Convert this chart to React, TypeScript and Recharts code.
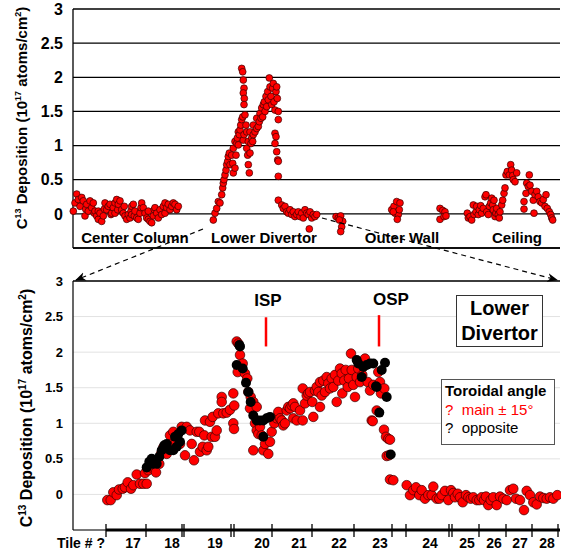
import React from 'react'
import { CartesianGrid, ReferenceDot, ReferenceLine, Scatter, ScatterChart, XAxis, YAxis } from 'recharts'

type Pt = [number, number]

// top panel: position along the wall (axis units), C13 deposition (1e17 atoms/cm2)
const centerColumn: Pt[] = [
  [0.3, 0.04], [2, 0.16], [3.7, 0.29], [5.3, 0.21], [7, 0.11], [8.7, 0.24], [10.3, 0.19], [12, -0.03],
  [12.7, 0.07], [13.7, 0.14], [15.3, 0.04], [17, 0.19], [18.7, 0.09], [20.3, 0.16], [21.3, 0.01], [22, 0.04],
  [23.7, -0.03], [25.3, -0.08], [25.3, 0.04], [27, 0.01], [28.7, -0.11], [30.3, -0.03], [31.3, 0.07], [32, 0.16],
  [33.7, 0.06], [35.3, 0.11], [37, 0.14], [38, -0.01], [38.7, 0.01], [40.3, 0.09], [42, 0.16], [42, 0.01],
  [43.7, 0.21], [44.7, 0.06], [45.3, 0.14], [47, 0.19], [48.7, 0.06], [50.3, 0.01], [51.3, 0.11], [52, -0.03],
  [53.7, -0.08], [55.3, -0.01], [57, -0.06], [58, 0.04], [58.7, 0.11], [58.7, -0.01], [60.3, 0.14], [61.3, -0.03],
  [62, 0.04], [63.7, -0.06], [65.3, -0.08], [67, 0.01], [68, 0.09], [68.7, 0.16], [70.3, 0.09], [72, 0.01],
  [73.7, -0.06], [75.3, -0.08], [75.3, 0.04], [77, -0.11], [78.7, -0.13], [80.3, -0.03], [81.3, 0.06], [82, 0.09],
  [83.7, 0.01], [85.3, -0.06], [87, 0.06], [88.7, -0.01], [90.3, 0.11], [92, 0.16], [92, 0.01], [93.7, 0.09],
  [95.3, 0.14], [97, 0.06], [98.7, 0.11], [100.3, 0.16], [102, 0.14], [103.7, 0.06], [105.3, 0.11],
]

const lowerDivertorWall: Pt[] = [
  [140.3, -0.09], [142, 0.01], [143.7, 0.08], [145.3, 0.18], [147, 0.16], [148.7, 0.28], [149.7, 0.38], [150.3, 0.45],
  [151, 0.5], [152, 0.57], [153, 0.64], [153.7, 0.72], [154.7, 0.77], [155.3, 0.84], [156.3, 0.89], [157, 0.72],
  [158.7, 0.86], [159.7, 0.74], [160.3, 0.6], [160.3, 0.96], [162, 0.67], [162, 1.06], [163, 0.86], [163.7, 1.03],
  [164.3, 1.11], [165.3, 1.01], [165.3, 1.2], [166.3, 1.16], [167, 1.23], [167.7, 1.3], [168.7, 1.38], [169.7, 1.42],
  [170.3, 1.08], [171, 1.16], [168.7, 2.13], [169.7, 2.08], [170.3, 1.96], [171, 1.84], [170.3, 1.77], [171.3, 1.69],
  [171, 1.6], [172, 1.45], [173, 1.3], [173.7, 1.2], [173.7, 0.96], [174.7, 0.86], [175.3, 0.72], [175.3, 1.06],
  [176.3, 0.6], [177, 0.89], [177, 1.2], [178, 1.03], [178.7, 1.11], [179.7, 1.06], [180.3, 1.16], [180.3, 1.3],
  [182, 1.2], [183.7, 1.25], [183.7, 1.4], [185.3, 1.28], [186.3, 1.35], [187, 1.47], [188, 1.4], [188.7, 1.55],
  [189.7, 1.42], [190.3, 1.6], [191.3, 1.64], [192, 1.5], [193, 1.72], [193.7, 1.57], [194.7, 1.79], [195.3, 1.67],
  [196.3, 1.99], [197, 1.86], [198, 1.72], [198.7, 1.6], [199.7, 1.84], [200.3, 1.91], [201, 1.64], [202, 1.52],
  [203, 1.79], [203.7, 1.86], [204.3, 1.69], [205.3, 1.5], [205.3, 1.38], [202, 1.18], [203, 1.13], [202, 1.03],
  [203.7, 0.91], [204.7, 0.79], [205.3, 0.77], [205.3, 0.55], [205.3, 0.2], [208.7, 0.13], [210.3, 0.08], [212, 0.11],
  [213.7, 0.03], [215.3, 0.01], [217, 0.06], [218.7, -0.01], [220.3, 0.03], [222, -0.04], [223.7, -0.01], [225.3, 0.03],
  [227, -0.04], [228.7, 0.01], [230.3, -0.06], [232, 0.06], [233.7, 0.01], [235.3, -0.01], [236.3, -0.22], [237, 0.03],
  [238.7, -0.06], [240.3, -0.01], [242, -0.04], [243.7, -0.01],
]

const outerWall: Pt[] = [
  [263, -0.04], [265.3, -0.06], [267.7, -0.03], [269.7, -0.11], [268.7, -0.19], [267.7, -0.26], [266.3, -0.09],
  [318.7, 0.06], [321, 0.11], [323.7, 0.18], [327, 0.16], [322, 0.01], [325.3, -0.01], [324.3, -0.08], [320.3, 0.03],
  [326.3, 0.06], [367, 0.08], [369.7, 0.05], [372, 0.03], [367, -0.08], [371, -0.04], [373, -0.03],
]

const ceiling: Pt[] = [
  [394.3, 0.01], [395.3, -0.06], [397, -0.04], [398.7, -0.09], [400.3, 0.13], [401, -0.01], [403, 0.03], [403.7, 0.11],
  [405.3, -0.01], [406.3, 0.06], [407.7, 0.12], [408.7, 0.01], [410.3, 0.08], [412, 0.25], [413, 0.28], [413.7, 0.03],
  [415.3, -0.01], [416.3, 0.11], [417.7, 0.16], [418.7, 0.23], [419.7, 0.13], [420.3, 0.06], [421, 0.2], [422, -0.04],
  [423, 0.01], [423.7, 0.08], [425.3, -0.01], [426.3, -0.06], [427, 0.03], [428.7, 0.13], [429.7, 0.2], [431, 0.3],
  [432, 0.38], [433, 0.57], [434.3, 0.62], [436.3, 0.57], [437.7, 0.72], [438.7, 0.64], [439.7, 0.56], [440.3, 0.5],
  [442, 0.47], [443.7, 0.6], [451, 0.18], [451, 0.07], [453, 0.3], [453.7, 0.45], [455.3, 0.4], [456.3, 0.57],
  [457, 0.42], [458.7, 0.33], [460.3, 0.2], [461, 0.01], [462, 0.28], [463.7, 0.33], [465.3, 0.25], [467, 0.18],
  [468.7, 0.16], [470.3, 0.21], [472, 0.11], [473, 0.28], [474.3, 0.08], [476.3, 0.03], [477.7, -0.01], [478.7, -0.06],
  [479.7, -0.09],
]

// bottom panel: lower divertor, main toroidal angle +/- 15 deg and opposite side
const mainAngle: Pt[] = [
  [34.3, -0.08], [37.7, -0.08], [40.3, 0.03], [43.7, -0.01], [46, 0.07], [49.7, 0.08], [52, 0.1], [54.7, 0.17],
  [58, 0.08], [60.3, 0.13], [63.7, 0.28], [67, 0.15], [70.3, 0.15], [73.7, 0.15], [72, 0.3], [75.3, 0.34],
  [78, 0.38], [80.3, 0.43], [83, 0.31], [86.3, 0.43], [88, 0.57], [90.3, 0.66], [93.7, 0.57], [97, 0.83],
  [98.7, 0.71], [100.3, 0.88], [103, 0.74], [107, 0.71], [108.7, 0.95], [112, 0.55], [113.7, 0.95], [117, 0.9],
  [118.7, 0.71], [121, 0.48], [123.7, 0.88], [126.3, 0.88], [127, 0.6], [129.7, 0.67], [131.3, 0.83], [133.7, 0.62],
  [135.3, 0.67], [138.7, 0.81], [132, 1.04], [137, 1.02], [139.7, 1.09], [142, 0.81], [143.7, 0.9], [145.3, 1.14],
  [148.7, 1.37], [148.7, 1.3], [150.3, 1.14], [153.7, 1.15], [157, 1.19], [160.3, 1.42], [161.3, 1.25], [160.3, 1.0],
  [161, 0.92], [163.7, 2.15], [165.3, 2.12], [164.7, 1.72], [167, 1.96], [169.7, 1.84], [172, 1.7], [174.3, 1.63],
  [175.3, 1.44], [177.7, 1.37], [177, 1.21], [180.3, 1.3], [183.7, 1.23], [182, 1.0], [183.7, 0.9], [185.3, 0.85],
  [187, 0.95], [188.7, 0.83], [180.3, 0.62], [190.3, 0.62], [192, 0.71], [195.3, 0.57], [197, 0.74], [198.7, 0.88],
  [201.3, 1.0], [203.7, 1.07], [205.3, 1.16], [207, 1.07], [208.7, 1.04], [210.3, 0.97], [212, 1.0], [213.7, 1.18],
  [215.3, 1.23], [217, 1.21], [218.7, 1.25], [220.3, 1.28], [222, 1.23], [220.3, 1.07], [223.7, 1.04], [227, 1.18],
  [229.7, 1.04], [229.7, 1.49], [232, 1.28], [233.7, 1.39], [235.3, 1.42], [237, 1.44], [239.3, 1.3], [240.3, 1.09],
  [242, 1.46], [243.7, 1.51], [245.3, 1.44], [247, 1.23], [247, 1.58], [248.7, 1.39], [250.3, 1.6], [252, 1.44],
  [253.7, 1.65], [255.3, 1.56], [257, 1.49], [258.7, 1.63], [260.3, 1.51], [262, 1.68], [263.7, 1.3], [265.3, 1.6],
  [267, 1.77], [268.7, 1.7], [269.3, 1.42], [271.3, 1.6], [272.7, 1.75], [274.7, 1.51], [276, 1.63], [278, 1.98],
  [278.7, 1.75], [280.3, 1.54], [282, 1.37], [283.7, 1.65], [285.3, 1.77], [287, 1.58], [289.3, 1.68], [292, 1.91],
  [294.7, 1.58], [297, 1.46], [298.7, 1.04], [299.7, 1.03], [300.3, 1.54], [303.7, 1.18], [305.3, 1.72], [307, 1.58],
  [308, 1.42], [311.3, 1.49], [311, 0.91], [313, 0.81], [315.3, 0.78], [317, 0.77], [313.7, 0.54], [316, 0.55],
  [317, 0.21], [320.3, 0.2], [333.7, 0.13], [337, -0.01], [340.3, 0.06], [343, 0.1], [346.3, -0.01], [348.7, 0.06],
  [352, -0.06], [355.3, -0.01], [358.7, -0.01], [360.3, 0.11], [363.7, -0.06], [366.3, -0.06], [368.7, -0.01], [372, 0.05],
  [375.3, -0.08], [378, 0.06], [380.3, 0.02], [382, -0.04], [384.7, 0.01], [387, -0.04], [389.7, -0.11], [393, -0.01],
  [395.3, -0.04], [397.7, -0.06], [400.3, -0.04], [403.7, -0.08], [406.3, -0.08], [408.7, -0.04], [411, -0.08], [413, -0.03],
  [415.3, -0.15], [417.7, -0.08], [420.3, -0.04], [423.7, -0.15], [427, -0.03], [430.3, -0.06], [433.7, -0.08], [437, 0.06],
  [440.3, 0.08], [443, -0.06], [447, -0.08], [451, -0.22], [453.7, 0.05], [457, -0.01], [460.3, -0.11], [463.7, -0.14],
  [467, -0.03], [470.3, -0.05], [473.7, -0.06], [477, -0.04], [480.3, -0.06], [484.3, -0.01],
]

const opposite: Pt[] = [
  [73.7, 0.38], [76.3, 0.46], [78.7, 0.5], [80.3, 0.43], [83.7, 0.43], [86.3, 0.53], [88.7, 0.62], [91.3, 0.69],
  [93.7, 0.71], [97, 0.62], [100.3, 0.62], [103.7, 0.67], [107, 0.74], [102, 0.81], [105.3, 0.85], [108.7, 0.9],
  [163.7, 1.82], [167, 2.08], [166.3, 2.1], [169.7, 1.77], [173, 1.57], [175.3, 1.44], [177.7, 1.3], [180.3, 1.11],
  [183.7, 1.04], [187, 1.04], [190.3, 1.04], [193.7, 1.07], [197, 1.09], [190.3, 0.81], [283.7, 1.89], [285.3, 1.84],
  [290.3, 1.79], [293.7, 1.82], [297, 1.84], [300.3, 1.84], [288.7, 1.65], [303.7, 1.51], [308.7, 1.75], [312, 1.85],
  [303, 1.52], [313.7, 1.37], [306.3, 1.15], [317.7, 0.56],
]

const yTicks = [0, 0.5, 1, 1.5, 2, 2.5, 3]
const tileEdges = [33, 73, 109, 111, 158, 161, 199, 239, 281, 319, 333, 376, 379, 406, 433, 459, 485]
const tileCenters = [8, 60, 99, 142, 189, 226, 266, 307, 357, 394, 421, 447, 474]
const tileNames = ['Tile # ?', '17', '18', '19', '20', '21', '22', '23', '24', '25', '26', '27', '28']

const FONT = '"Liberation Sans", Arial, sans-serif'

const toRows = (pts: Pt[]) => pts.map(([x, y]) => ({ x, y }))

const RedDot = (r: number) => (p: any) => (
  <circle cx={p.cx} cy={p.cy} r={r} fill="#ff0000" stroke="#3a0000" strokeWidth={0.7} />
)
const BlackDot = (p: any) => <circle cx={p.cx} cy={p.cy} r={5} fill="#000" />

function YTitle({ bx, cy, size }: { bx: number; cy: number; size: number }) {
  const s = Math.round(size * 0.6)
  return (
    <text
      transform={`translate(${bx},${cy}) rotate(-90)`}
      textAnchor="middle"
      fontFamily={FONT}
      fontWeight={700}
      fontSize={size}
      fill="#000"
    >
      C<tspan fontSize={s} dy={-size * 0.4}>13</tspan>
      <tspan dy={size * 0.4}> Deposition (10</tspan>
      <tspan fontSize={s} dy={-size * 0.4}>17</tspan>
      <tspan dy={size * 0.4}> atoms/cm</tspan>
      <tspan fontSize={s} dy={-size * 0.4}>2</tspan>
      <tspan dy={size * 0.4}>)</tspan>
    </text>
  )
}

function TileTick(props: any) {
  const { x, y, payload } = props
  const i = tileCenters.indexOf(payload.value)
  if (i >= 0) {
    return (
      <text x={x} y={y + 18} textAnchor="middle" fontFamily={FONT} fontWeight={700} fontSize={14} fill="#000">
        {tileNames[i]}
      </text>
    )
  }
  return <line x1={x} x2={x} y1={y - 6} y2={y + 7} stroke="#000" strokeWidth={1.3} />
}

const regionLabel = (value: string) => ({
  value,
  position: 'center' as const,
  fontFamily: FONT,
  fontWeight: 700,
  fontSize: 15,
  fill: '#000',
})

function TopPanel() {
  return (
    <ScatterChart width={561} height={260} margin={{ top: 9, right: 1, bottom: 12, left: 0 }}>
      <CartesianGrid vertical={false} stroke="#000" strokeWidth={1.3} />
      <XAxis type="number" dataKey="x" domain={[0, 487]} hide />
      <YAxis
        type="number"
        dataKey="y"
        domain={[-0.5, 3]}
        ticks={yTicks}
        width={73}
        tickLine={false}
        tickMargin={4}
        axisLine={{ stroke: '#000', strokeWidth: 1.3 }}
        tick={{ fontFamily: FONT, fontWeight: 700, fontSize: 16, fill: '#000' }}
        label={<YTitle bx={27} cy={118} size={15} />}
      />
      <ReferenceLine y={-0.5} stroke="#000" strokeWidth={1.5} />
      <ReferenceDot x={62} y={-0.35} r={0} fill="none" stroke="none" label={regionLabel('Center Column')} />
      <ReferenceDot x={191} y={-0.35} r={0} fill="none" stroke="none" label={regionLabel('Lower Divertor')} />
      <ReferenceDot x={329} y={-0.35} r={0} fill="none" stroke="none" label={regionLabel('Outer Wall')} />
      <ReferenceDot x={444} y={-0.35} r={0} fill="none" stroke="none" label={regionLabel('Ceiling')} />
      <Scatter data={toRows(centerColumn)} shape={RedDot(3.4)} isAnimationActive={false} />
      <Scatter data={toRows(lowerDivertorWall)} shape={RedDot(3.4)} isAnimationActive={false} />
      <Scatter data={toRows(outerWall)} shape={RedDot(3.4)} isAnimationActive={false} />
      <Scatter data={toRows(ceiling)} shape={RedDot(3.4)} isAnimationActive={false} />
    </ScatterChart>
  )
}

function BottomPanel() {
  const spLabel = (value: string) => ({ ...regionLabel(value), fontSize: 17 })
  return (
    <ScatterChart width={561} height={290} margin={{ top: 21, right: 1, bottom: 0, left: 0 }}>
      <CartesianGrid vertical={false} stroke="#e2e2e2" strokeWidth={1} />
      <XAxis
        type="number"
        dataKey="x"
        domain={[0, 487]}
        ticks={[...tileCenters, ...tileEdges]}
        interval={0}
        height={20}
        tickLine={false}
        tickSize={0}
        tickMargin={0}
        axisLine={{ stroke: '#000', strokeWidth: 1.2 }}
        tick={<TileTick />}
      />
      <YAxis
        type="number"
        dataKey="y"
        domain={[-0.5, 3]}
        ticks={yTicks}
        width={73}
        tickLine={false}
        tickMargin={4}
        axisLine={{ stroke: '#000', strokeWidth: 1.2 }}
        tick={{ fontFamily: FONT, fontWeight: 700, fontSize: 13, fill: '#000' }}
        label={<YTitle bx={32} cy={148} size={16} />}
      />
      <ReferenceLine y={3} stroke="#000" strokeWidth={1.3} />
      <ReferenceLine
        segment={[{ x: 33, y: -0.5 }, { x: 487, y: -0.5 }]}
        stroke="#000"
        strokeWidth={3}
        ifOverflow="visible"
      />
      <ReferenceLine segment={[{ x: 193, y: 2.08 }, { x: 193, y: 2.49 }]} stroke="#ff0000" strokeWidth={2.5} />
      <ReferenceLine segment={[{ x: 306, y: 2.08 }, { x: 306, y: 2.52 }]} stroke="#ff0000" strokeWidth={2.5} />
      <ReferenceDot x={195} y={2.73} r={0} fill="none" stroke="none" label={spLabel('ISP')} />
      <ReferenceDot x={318} y={2.75} r={0} fill="none" stroke="none" label={spLabel('OSP')} />
      <Scatter data={toRows(mainAngle)} shape={RedDot(4.8)} isAnimationActive={false} />
      <Scatter data={toRows(opposite)} shape={BlackDot} isAnimationActive={false} />
    </ScatterChart>
  )
}

export default function App() {
  return (
    <div style={{ position: 'absolute', left: 0, top: 0, width: 561, height: 550, background: '#fff', fontFamily: FONT }}>
      <div style={{ position: 'absolute', left: 0, top: 0 }}>
        <TopPanel />
      </div>
      <div style={{ position: 'absolute', left: 0, top: 260 }}>
        <BottomPanel />
      </div>
      <div
        style={{
          position: 'absolute', left: 456, top: 295, width: 85, height: 50, border: '1px solid #333',
          background: '#fff', fontWeight: 700, fontSize: 20, lineHeight: '25px', textAlign: 'center',
        }}
      >
        Lower
        <br />
        Divertor
      </div>
      <div
        style={{
          position: 'absolute', left: 441, top: 379, width: 114, height: 66, border: '1px solid #555',
          background: '#fff', fontSize: 15, lineHeight: '18.5px', padding: '2px 0 0 3px', boxSizing: 'border-box',
          whiteSpace: 'pre',
        }}
      >
        <div style={{ fontWeight: 700 }}>Toroidal angle</div>
        <div style={{ color: '#ff0000' }}>{'?  main ± 15°'}</div>
        <div>{'?  opposite'}</div>
      </div>
      <svg width={561} height={550} style={{ position: 'absolute', left: 0, top: 0, pointerEvents: 'none' }}>
        <defs>
          <marker id="ah" viewBox="0 0 10 10" refX="9" refY="5" markerWidth="9" markerHeight="9" orient="auto">
            <path d="M0,1 L10,5 L0,9 L3,5 Z" fill="#000" />
          </marker>
        </defs>
        <line x1={203} y1={229} x2={76} y2={280} stroke="#000" strokeWidth={1.2} strokeDasharray="5 4" markerEnd="url(#ah)" />
        <line x1={322} y1={218} x2={557} y2={280} stroke="#000" strokeWidth={1.2} strokeDasharray="5 4" markerEnd="url(#ah)" />
      </svg>
    </div>
  )
}
